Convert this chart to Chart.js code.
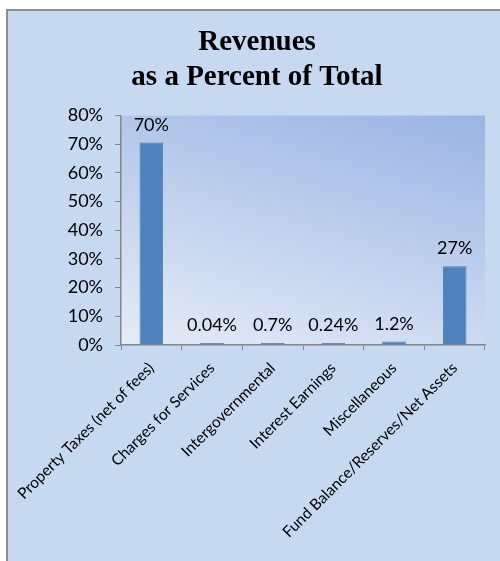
<!DOCTYPE html>
<html>
<head>
<title>Revenues as a Percent of Total</title>
<script src="https://cdn.jsdelivr.net/npm/chart.js"></script>
<style>
  body { margin: 0; background: #fff; }
  #frame {
    position: absolute; left: 6px; top: 9px;
    width: 494px; height: 552px; box-sizing: border-box;
    background: #c6d9f1;
    border-left: 2px solid #8e8e8e; border-top: 2px solid #8e8e8e;
  }
  #frame canvas { display: block; }
</style>
</head>
<body>
<div id="frame"><canvas id="revChart" width="492" height="550"></canvas></div>

<script>
  // chart data
  const categories = [
    'Property Taxes (net of fees)',
    'Charges for Services',
    'Intergovernmental',
    'Interest Earnings',
    'Miscellaneous',
    'Fund Balance/Reserves/Net Assets'
  ];
  const shares = [70.6, 0.04, 0.7, 0.24, 1.2, 27.5];
  const shareLabels = ['70%', '0.04%', '0.7%', '0.24%', '1.2%', '27%'];
  const yTicks = [0, 10, 20, 30, 40, 50, 60, 70, 80];

  // gradient fill behind the bars (mostly bottom -> top, a little left -> right)
  const plotBackground = {
    id: 'plotBackground',
    beforeDraw(chart) {
      const a = chart.chartArea, ctx = chart.ctx;
      const dx = 0.32 / a.width, dy = 0.68 / a.height;
      const n = dx * dx + dy * dy;
      const g = ctx.createLinearGradient(a.left, a.bottom, a.left + dx / n, a.bottom - dy / n);
      g.addColorStop(0, '#e5ecf8');
      g.addColorStop(1, '#9bb4e3');
      ctx.save();
      ctx.fillStyle = g;
      ctx.fillRect(a.left, a.top, a.width, a.height);
      ctx.restore();
    }
  };

  // value labels above each bar
  const barLabels = {
    id: 'barLabels',
    afterDatasetsDraw(chart) {
      const ctx = chart.ctx;
      const bars = chart.getDatasetMeta(0).data;
      ctx.save();
      ctx.font = '18px Lato';
      ctx.fillStyle = '#000';
      ctx.textAlign = 'center';
      ctx.textBaseline = 'alphabetic';
      bars.forEach((bar, i) => {
        ctx.fillText(shareLabels[i], bar.x, bar.y - 12);
      });
      ctx.restore();
    }
  };

  new Chart(document.getElementById('revChart'), {
    type: 'bar',
    data: {
      labels: categories,
      datasets: [{
        data: shares,
        backgroundColor: '#4f81bd',
        borderColor: '#4a7bb7',
        borderWidth: 1,
        minBarLength: 2,
        barPercentage: 0.39,
        categoryPercentage: 1
      }]
    },
    options: {
      responsive: false,
      animation: false,
      layout: { padding: { left: 21, right: 15, top: 0, bottom: 0 } },
      plugins: {
        legend: { display: false },
        tooltip: { enabled: false },
        title: {
          display: true,
          text: ['Revenues', 'as a Percent of Total'],
          color: '#000',
          font: { family: 'Liberation Serif', size: 29, weight: 'bold', lineHeight: 1.2 },
          padding: { top: 14, bottom: 21 }
        }
      },
      scales: {
        x: {
          afterFit(scale) {
            scale.height = 216;
            scale.paddingLeft = 0;
            scale.paddingRight = 0;
          },
          border: { color: '#868686', width: 1.5 },
          grid: { drawOnChartArea: false, tickLength: 5, color: '#868686', offset: true },
          ticks: { color: '#000', font: { family: 'Lato', size: 15.5 }, maxRotation: 45, minRotation: 45, padding: 9 }
        },
        y: {
          min: 0,
          max: 80,
          afterFit(scale) { scale.width = 92; },
          afterBuildTicks(scale) { scale.ticks = yTicks.map(v => ({ value: v })); },
          border: { color: '#868686', width: 1.5 },
          grid: { drawOnChartArea: false, tickLength: 6, color: '#868686' },
          ticks: { color: '#000', font: { family: 'Lato', size: 18 }, padding: 12, callback: v => v + '%' }
        }
      }
    },
    plugins: [plotBackground, barLabels]
  });
</script>
</body>
</html>
